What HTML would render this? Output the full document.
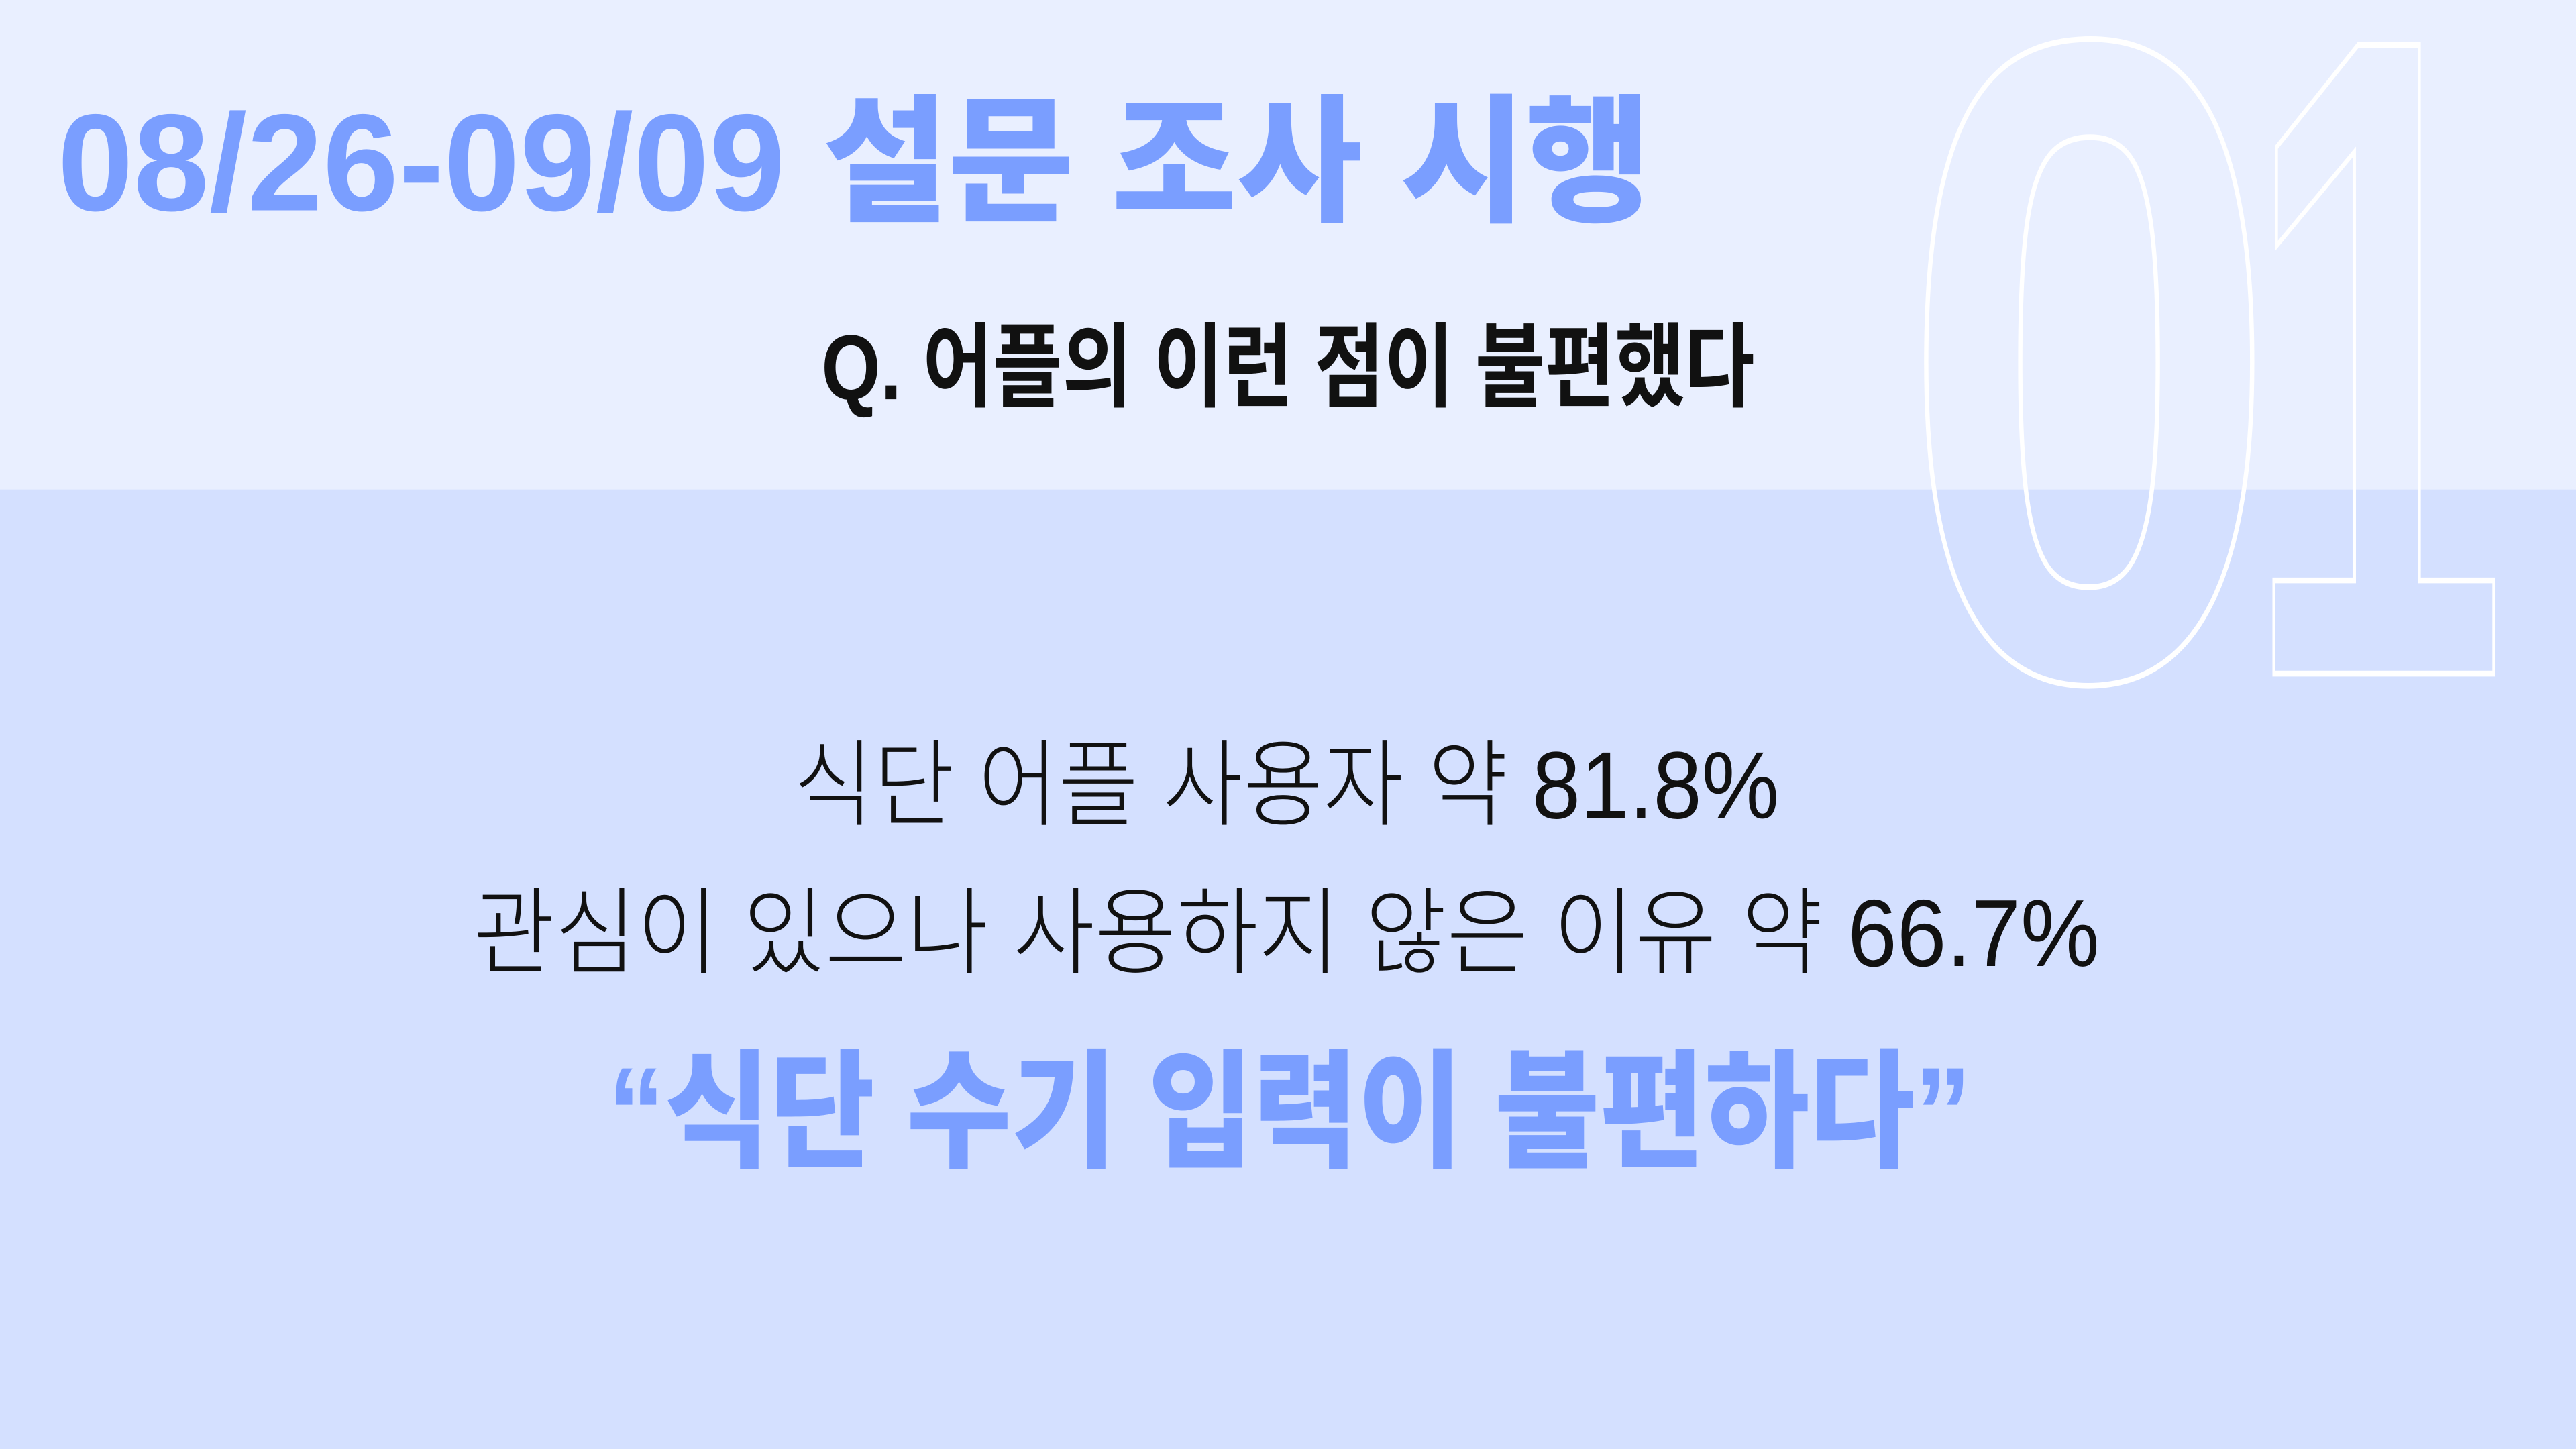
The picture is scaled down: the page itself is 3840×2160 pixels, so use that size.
<!DOCTYPE html>
<html><head><meta charset="utf-8"><style>
html,body{margin:0;padding:0;width:3840px;height:2160px;overflow:hidden;background:#d4e0ff}
svg{display:block}
text{font-family:"Liberation Sans","Noto Sans CJK KR","NanumGothic",sans-serif}
</style></head><body>
<svg width="3840" height="2160" viewBox="0 0 1568 882" preserveAspectRatio="none" xmlns="http://www.w3.org/2000/svg">
<rect x="0" y="0" width="1568" height="298" fill="#e9efff"/>
<rect x="0" y="298" width="1568" height="584" fill="#d4e0ff"/>
<text x="1156" y="412" font-size="556" font-weight="700" fill="none" stroke="#ffffff" stroke-width="3.5" textLength="232" lengthAdjust="spacingAndGlyphs">0</text>
<text x="1366" y="410" font-size="556" font-weight="700" fill="none" stroke="#ffffff" stroke-width="3.5" textLength="160" lengthAdjust="spacingAndGlyphs">1</text>
<text x="35" y="128" font-size="84" font-weight="900" fill="#7a9eff" textLength="970" lengthAdjust="spacingAndGlyphs">08/26-09/09 설문 조사 시행</text>
<text x="500" y="243" font-size="56" font-weight="700" fill="#111" textLength="568" lengthAdjust="spacingAndGlyphs">Q. 어플의 이런 점이 불편했다</text>
<text x="483" y="498" font-size="58" font-weight="300" fill="#111" textLength="600" lengthAdjust="spacingAndGlyphs">식단 어플 사용자 약 81.8%</text>
<text x="288" y="588" font-size="58" font-weight="300" fill="#111" textLength="990" lengthAdjust="spacingAndGlyphs">관심이 있으나 사용하지 않은 이유 약 66.7%</text>
<text x="370" y="704" font-size="78" font-weight="900" fill="#7a9eff" textLength="830" lengthAdjust="spacingAndGlyphs">“식단 수기 입력이 불편하다”</text>
</svg>
</body></html>
